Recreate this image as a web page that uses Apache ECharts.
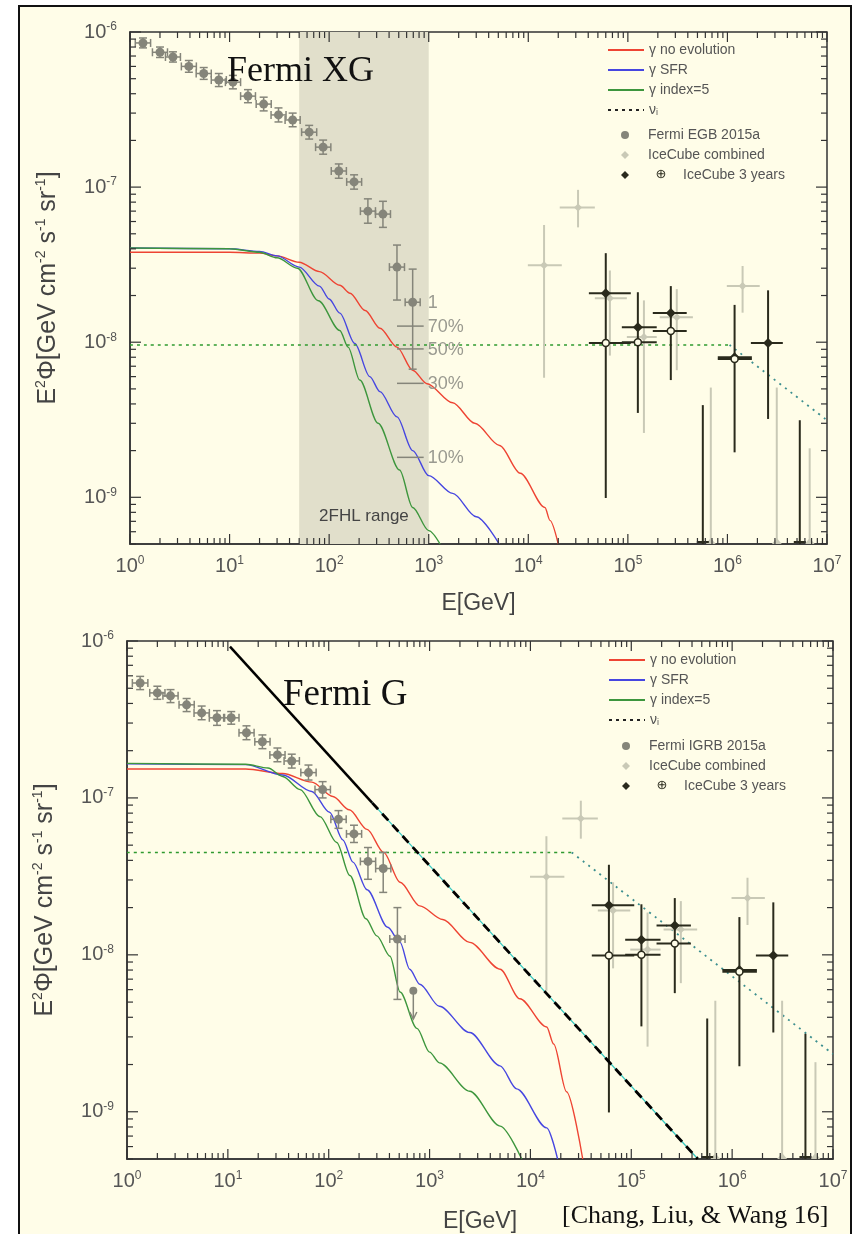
<!DOCTYPE html>
<html><head><meta charset="utf-8">
<script src="https://cdn.jsdelivr.net/npm/echarts@6/dist/echarts.min.js"></script>
<style>html,body{margin:0;padding:0;background:#fff}#c{width:854px;height:1234px}</style>
</head><body><div id="c"></div>
<script>
// ---------------- axis ranges & ticks ----------------
const X_MIN = 1, X_MAX = 1e7, Y_MIN = 5e-10, Y_MAX = 1e-6;
const xDecades = [1, 10, 100, 1e3, 1e4, 1e5, 1e6, 1e7];
const yDecades = [1e-9, 1e-8, 1e-7, 1e-6];
const yMinorDecades = [1e-10, 1e-9, 1e-8, 1e-7];
const minorMult = [2, 3, 4, 5, 6, 7, 8, 9];

// ---------------- Fermi data ----------------
const fermiE   = [1.35, 2.0, 2.7, 3.9, 5.5, 7.8, 10.8, 15.3, 22, 31, 43, 63, 87, 125, 178, 245, 347, 480, 690];
const fermiElo = [1.13, 1.68, 2.27, 3.28, 4.62, 6.55, 9.08, 12.9, 18.5, 26.1, 36.1, 52.9, 73.1, 105, 150, 206, 292, 403, 580];
const fermiEhi = [1.61, 2.38, 3.21, 4.64, 6.55, 9.28, 12.9, 18.2, 26.2, 36.9, 51.2, 75, 104, 149, 212, 292, 413, 571, 821];

// Fermi EGB 2015a (top panel)
const egbF   = [8.5e-7, 7.4e-7, 6.9e-7, 6.0e-7, 5.4e-7, 4.9e-7, 4.75e-7, 3.86e-7, 3.43e-7, 2.92e-7, 2.71e-7, 2.26e-7, 1.81e-7, 1.27e-7, 1.08e-7, 7.0e-8, 6.7e-8, 3.05e-8, 1.81e-8];
const egbFlo = [7.9e-7, 6.85e-7, 6.4e-7, 5.5e-7, 4.95e-7, 4.45e-7, 4.3e-7, 3.5e-7, 3.1e-7, 2.63e-7, 2.45e-7, 2.04e-7, 1.63e-7, 1.14e-7, 9.7e-8, 5.85e-8, 5.5e-8, 1.87e-8, 6.7e-9];
const egbFhi = [9.15e-7, 8.0e-7, 7.45e-7, 6.55e-7, 5.9e-7, 5.4e-7, 5.25e-7, 4.25e-7, 3.8e-7, 3.24e-7, 3.0e-7, 2.5e-7, 2.01e-7, 1.41e-7, 1.2e-7, 8.4e-8, 8.1e-8, 4.23e-8, 2.96e-8];

// Fermi IGRB 2015a (bottom panel)
const igrbF   = [5.4e-7, 4.67e-7, 4.47e-7, 3.92e-7, 3.48e-7, 3.24e-7, 3.24e-7, 2.6e-7, 2.28e-7, 1.88e-7, 1.72e-7, 1.45e-7, 1.13e-7, 7.3e-8, 5.9e-8, 3.94e-8, 3.55e-8, 1.26e-8];
const igrbFlo = [4.9e-7, 4.25e-7, 4.05e-7, 3.55e-7, 3.15e-7, 2.9e-7, 2.95e-7, 2.35e-7, 2.06e-7, 1.7e-7, 1.55e-7, 1.3e-7, 1.0e-7, 6.4e-8, 5.2e-8, 3.03e-8, 2.5e-8, 5.2e-9];
const igrbFhi = [5.95e-7, 5.15e-7, 4.9e-7, 4.3e-7, 3.85e-7, 3.6e-7, 3.55e-7, 2.88e-7, 2.52e-7, 2.08e-7, 1.9e-7, 1.62e-7, 1.27e-7, 8.3e-8, 6.7e-8, 4.83e-8, 4.5e-8, 2.0e-8];
const igrbLimitE = [690];
const igrbLimitF = [5.9e-9];
const igrbLimitTo = [3.9e-9];

// 2FHL fraction marks (top panel)
const pctLabels = ['1', '70%', '50%', '30%', '10%'];
const pctF   = [1.81e-8, 1.27e-8, 9.05e-9, 5.43e-9, 1.81e-9];
const pctElo = [480, 480, 480, 480, 480];
const pctEhi = [890, 890, 890, 890, 890];

// IceCube combined
const iccE   = [14400, 31600, 66000, 145000, 310000, 1.42e6];
const iccElo = [9900, 20700, 46600, 97700, 209000, 986000];
const iccEhi = [21700, 46600, 97700, 195000, 450000, 2.11e6];
const iccF   = [3.14e-8, 7.4e-8, 1.92e-8, 1.08e-8, 1.45e-8, 2.3e-8];
const iccFlo = [5.9e-9, 5.5e-8, 8.2e-9, 2.6e-9, 6.6e-9, 1.55e-8];
const iccFhi = [5.7e-8, 9.6e-8, 2.9e-8, 1.86e-8, 2.2e-8, 3.1e-8];
const iccLimitE = [681000, 3.13e6, 6.7e6];
const iccLimitF = [5.1e-9, 5.1e-9, 2.07e-9];

// IceCube 3 years
const ic3E   = [60000, 126000, 270000, 1.18e6, 2.56e6];
const ic3Elo = [40600, 87000, 178000, 800000, 1.72e6];
const ic3Ehi = [107000, 195000, 390000, 1.76e6, 3.6e6];
const ic3F   = [2.07e-8, 1.25e-8, 1.54e-8, 8.0e-9, 9.9e-9];
const ic3Flo = [9.9e-10, 3.5e-9, 5.7e-9, 1.95e-9, 3.2e-9];
const ic3Fhi = [3.75e-8, 2.1e-8, 2.3e-8, 1.74e-8, 2.16e-8];
const ic3OpenE   = [60000, 126000, 270000, 1.18e6];
const ic3OpenElo = [40600, 87000, 178000, 800000];
const ic3OpenEhi = [107000, 195000, 390000, 1.76e6];
const ic3OpenF   = [9.9e-9, 1.0e-8, 1.18e-8, 7.8e-9];
const ic3LimitE = [566000, 5.33e6];
const ic3LimitF = [3.93e-9, 3.14e-9];

// ---------------- model curves ----------------
const redTop = [[1,3.8e-8],[10,3.8e-8],[20,3.75e-8],[30,3.6e-8],[50,3.28e-8],[80,2.85e-8],[128,2.33e-8],[162,2.07e-8],[230,1.6e-8],[324,1.23e-8],[480,9.3e-9],[690,6.6e-9],[960,5.4e-9],[1740,4.07e-9],[2900,3.0e-9],[5150,2.16e-9],[8300,1.43e-9],[14700,8.6e-10],[16500,7.1e-10],[20000,5e-10]];
const blueTop = [[1,4.05e-8],[10,4.0e-8],[20,3.85e-8],[30,3.6e-8],[50,3.05e-8],[80,2.3e-8],[100,1.9e-8],[128,1.54e-8],[181,9.8e-9],[256,6.0e-9],[324,4.8e-9],[480,3.3e-9],[690,2.0e-9],[1000,1.38e-9],[1740,1.06e-9],[3000,7.5e-10],[5100,5e-10]];
const greenTop = [[1,4.05e-8],[10,4.0e-8],[20,3.8e-8],[30,3.5e-8],[48,3.0e-8],[78,1.85e-8],[128,1.19e-8],[155,9.3e-9],[203,5.7e-9],[310,3.0e-9],[510,1.5e-9],[690,8.6e-10],[1000,6.1e-10],[1300,5e-10]];
const nuTopFlat = [[1,9.6e-9],[1.05e6,9.6e-9]];
const nuTopSlope = [[1.05e6,9.6e-9],[1e7,3.14e-9]];

const redBot = [[1,1.53e-7],[15,1.53e-7],[35,1.43e-7],[68,1.26e-7],[110,1.02e-7],[160,8.4e-8],[240,6.3e-8],[350,4.5e-8],[510,2.9e-8],[800,2.05e-8],[1350,1.68e-8],[2500,1.2e-8],[5000,8.1e-9],[7850,5.25e-9],[14500,3.47e-9],[17000,2.7e-9],[22800,1.34e-9],[33000,5e-10]];
const blueBot = [[1,1.65e-7],[15,1.63e-7],[35,1.4e-7],[68,1.1e-7],[102,8.1e-8],[138,5.4e-8],[174,3.9e-8],[240,2.6e-8],[385,1.5e-8],[510,1.2e-8],[635,8.1e-9],[800,6.5e-9],[1250,4.7e-9],[2500,3.2e-9],[5000,1.96e-9],[7300,1.4e-9],[14500,7.9e-10],[18600,5e-10]];
const greenBot = [[1,1.66e-7],[15,1.64e-7],[25,1.55e-7],[35,1.37e-7],[52,1.13e-7],[82,7.6e-8],[120,5.2e-8],[162,3.2e-8],[234,1.7e-8],[300,1.32e-8],[405,9.8e-9],[510,5.8e-9],[750,3.4e-9],[1000,2.4e-9],[1250,2.05e-9],[2500,1.35e-9],[5000,8.1e-10],[8200,5e-10]];
const nuBotFlat = [[1,4.49e-8],[25700,4.49e-8]];
const nuBotSlope = [[25700,4.49e-8],[1e7,2.33e-9]];
const boundSolid = [[10.5,9.2e-7],[270,9.3e-8]];
const boundDashed = [[270,9.3e-8],[457000,5e-10]];

// ---------------- styles ----------------
const SANS = "'Liberation Sans', Arial, sans-serif";
const NARROW = "'Liberation Sans Narrow', 'Liberation Sans', Arial, sans-serif";
const SERIF = "'Liberation Serif', 'Times New Roman', serif";
const C_RED = '#ee4433', C_BLUE = '#4646e0', C_GREEN = '#3d963d', C_NU = '#2f9a2f', C_TEAL = '#3d8f8f';
const C_FERMI = '#85857a', C_ICC = '#c9c9b6', C_IC3 = '#2a2a1c', AXIS = '#333';

function powLabel(v) {
  const e = Math.log10(v), r = Math.round(e);
  if (Math.abs(e - r) > 1e-6) return '';
  return '{b|10}{s|' + r + '}';
}
const tickRich = {
  b: {fontSize: 20, fontFamily: NARROW, color: '#555', lineHeight: 22},
  s: {fontSize: 12, fontFamily: NARROW, color: '#555', lineHeight: 12, verticalAlign: 'top'}
};

// tick data (major + minor) built from decades/multipliers
const xTickData = [];
xDecades.forEach(d => {
  xTickData.push([d, 1e-7, 1]);
  if (d < X_MAX) minorMult.forEach(m => xTickData.push([m * d, 1e-7, 0]));
});
const yTickData = [];
yDecades.forEach(d => yTickData.push([10, d, 1]));
yMinorDecades.forEach(d => minorMult.forEach(m => {
  const v = m * d;
  if (v >= Y_MIN * 0.999 && v <= Y_MAX) yTickData.push([10, v, 0]);
}));

function xTickRender(params, api) {
  const v = api.value(0), major = api.value(2);
  const b = api.coord([v, Y_MIN]), t = api.coord([v, Y_MAX]);
  const len = major ? 10 : 6;
  const st = {stroke: AXIS, lineWidth: 1.2};
  return {type: 'group', children: [
    {type: 'line', shape: {x1: b[0], y1: b[1], x2: b[0], y2: b[1] - len}, style: st},
    {type: 'line', shape: {x1: t[0], y1: t[1], x2: t[0], y2: t[1] + len}, style: st}
  ]};
}
function yTickRender(params, api) {
  const v = api.value(1), major = api.value(2);
  const l = api.coord([X_MIN, v]), r = api.coord([X_MAX, v]);
  const len = major ? 11 : 6;
  const st = {stroke: AXIS, lineWidth: 1.2};
  return {type: 'group', children: [
    {type: 'line', shape: {x1: l[0], y1: l[1], x2: l[0] + len, y2: l[1]}, style: st},
    {type: 'line', shape: {x1: r[0], y1: r[1], x2: r[0] - len, y2: r[1]}, style: st}
  ]};
}

function errRender(o) {
  return function (params, api) {
    const E = api.value(0), F = api.value(1);
    const c = api.coord([E, F]);
    const l = api.coord([api.value(2), F]), r = api.coord([api.value(3), F]);
    const lo = api.coord([E, api.value(4)]), hi = api.coord([E, api.value(5)]);
    const ls = {stroke: o.color, lineWidth: o.width};
    const kids = [
      {type: 'line', shape: {x1: l[0], y1: c[1], x2: r[0], y2: c[1]}, style: ls},
      {type: 'line', shape: {x1: c[0], y1: hi[1], x2: c[0], y2: lo[1]}, style: ls}
    ];
    if (o.cap) {
      const k = o.cap;
      kids.push({type: 'line', shape: {x1: c[0] - k, y1: hi[1], x2: c[0] + k, y2: hi[1]}, style: ls});
      kids.push({type: 'line', shape: {x1: c[0] - k, y1: lo[1], x2: c[0] + k, y2: lo[1]}, style: ls});
      kids.push({type: 'line', shape: {x1: l[0], y1: c[1] - k, x2: l[0], y2: c[1] + k}, style: ls});
      kids.push({type: 'line', shape: {x1: r[0], y1: c[1] - k, x2: r[0], y2: c[1] + k}, style: ls});
    }
    const s = o.size;
    if (o.marker === 'circle') kids.push({type: 'circle', shape: {cx: c[0], cy: c[1], r: s}, style: {fill: o.color}});
    else if (o.marker === 'diamond') kids.push({type: 'polygon', shape: {points: [[c[0], c[1] - s], [c[0] + s, c[1]], [c[0], c[1] + s], [c[0] - s, c[1]]]}, style: {fill: o.color}});
    else if (o.marker === 'open') kids.push({type: 'circle', shape: {cx: c[0], cy: c[1], r: s}, style: {fill: '#fffde8', stroke: o.color, lineWidth: 1.5}});
    return {type: 'group', children: kids};
  };
}
function ulRender(color, width, mark) {
  return function (params, api) {
    const t = api.coord([api.value(0), api.value(1)]);
    const b = api.coord([api.value(0), Y_MIN]);
    const kids = [{type: 'line', shape: {x1: t[0], y1: t[1], x2: b[0], y2: b[1]}, style: {stroke: color, lineWidth: width}}];
    if (mark === 'tri') kids.push({type: 'polygon', shape: {points: [[b[0] - 5, b[1]], [b[0] + 5, b[1]], [b[0], b[1] - 6]]}, style: {fill: color}});
    else kids.push({type: 'line', shape: {x1: b[0] - 6, y1: b[1] - 2, x2: b[0] + 6, y2: b[1] - 2}, style: {stroke: color, lineWidth: 2}});
    return {type: 'group', children: kids};
  };
}
function arrowRender(params, api) {
  const E = api.value(0);
  const c = api.coord([E, api.value(1)]), d = api.coord([E, api.value(2)]);
  return {type: 'group', children: [
    {type: 'line', shape: {x1: c[0], y1: c[1], x2: d[0], y2: d[1]}, style: {stroke: C_FERMI, lineWidth: 1.5}},
    {type: 'polyline', shape: {points: [[d[0] - 3.5, d[1] - 7], [d[0], d[1]], [d[0] + 3.5, d[1] - 7]]}, style: {stroke: C_FERMI, lineWidth: 1.5, fill: null}},
    {type: 'circle', shape: {cx: c[0], cy: c[1], r: 4}, style: {fill: C_FERMI}}
  ]};
}
function pctRender(params, api) {
  const F = api.value(1), i = params.dataIndex;
  const a = api.coord([api.value(2), F]), b = api.coord([api.value(3), F]);
  const kids = [];
  if (i > 0) kids.push({type: 'line', shape: {x1: a[0], y1: a[1], x2: b[0], y2: b[1]}, style: {stroke: C_FERMI, lineWidth: 1.5}});
  kids.push({type: 'text', style: {text: pctLabels[i], x: b[0] + 4, y: b[1] + 1, align: 'left', verticalAlign: 'middle', fill: '#9a9a90', font: '18px ' + SANS}});
  return {type: 'group', children: kids};
}

function zip6(E, F, Elo, Ehi, Flo, Fhi) { return E.map((e, i) => [e, F[i], Elo[i], Ehi[i], Flo[i], Fhi[i]]); }

const egbData  = zip6(fermiE, egbF, fermiElo, fermiEhi, egbFlo, egbFhi);
const igrbData = zip6(fermiE.slice(0, igrbF.length), igrbF, fermiElo, fermiEhi, igrbFlo, igrbFhi);
const iccData  = zip6(iccE, iccF, iccElo, iccEhi, iccFlo, iccFhi);
const ic3Data  = zip6(ic3E, ic3F, ic3Elo, ic3Ehi, ic3Flo, ic3Fhi);
const ic3OpenData = zip6(ic3OpenE, ic3OpenF, ic3OpenElo, ic3OpenEhi, ic3OpenF, ic3OpenF);
const iccLimData = iccLimitE.map((e, i) => [e, iccLimitF[i]]);
const ic3LimData = ic3LimitE.map((e, i) => [e, ic3LimitF[i]]);
const igrbLimData = igrbLimitE.map((e, i) => [e, igrbLimitF[i], igrbLimitTo[i]]);
const pctData = pctF.map((f, i) => [690, f, pctElo[i], pctEhi[i]]);

function custom(g, name, data, render, color, z) {
  const s = {type: 'custom', xAxisIndex: g, yAxisIndex: g, data: data, renderItem: render,
    encode: {x: 0, y: 1}, z: z || 3, silent: true, itemStyle: {color: color || '#000'}};
  if (name) s.name = name;
  return s;
}
function line(g, name, data, color, width, type, z) {
  return {type: 'line', name: name, xAxisIndex: g, yAxisIndex: g, data: data, symbol: 'none', showSymbol: false,
    smooth: 0.3, smoothMonotone: 'x', silent: true, z: z || 2,
    lineStyle: {color: color, width: width, type: type || 'solid'}, itemStyle: {color: color}};
}

function xAxis(g, gap) {
  return {gridIndex: g, type: 'log', logBase: 10, min: X_MIN, max: X_MAX,
    axisLine: {show: true, lineStyle: {color: AXIS, width: 1.5}}, axisTick: {show: false}, splitLine: {show: false},
    axisLabel: {margin: 11, formatter: powLabel, rich: tickRich},
    name: 'E[GeV]', nameLocation: 'middle', nameGap: gap,
    nameTextStyle: {fontSize: 23, fontFamily: SANS, color: '#444'}};
}
const yName = '{b|E}{s|2}{b|Φ[GeV cm}{s|-2}{b| s}{s|-1}{b| sr}{s|-1}{b|]}';
function yAxis(g) {
  return {gridIndex: g, type: 'log', logBase: 10, min: Y_MIN, max: Y_MAX,
    axisLine: {show: true, lineStyle: {color: AXIS, width: 1.5}}, axisTick: {show: false}, splitLine: {show: false},
    axisLabel: {margin: 13, formatter: powLabel, rich: tickRich},
    name: yName, nameLocation: 'middle', nameRotate: 90, nameGap: 68,
    nameTextStyle: {rich: {
      b: {fontSize: 25, fontFamily: SANS, color: '#444', lineHeight: 28},
      s: {fontSize: 14, fontFamily: SANS, color: '#444', lineHeight: 14, verticalAlign: 'top'}}}};
}

const legendRich = {
  n: {fontSize: 14, fontFamily: SANS, color: '#555', lineHeight: 14},
  i: {fontSize: 9, fontFamily: SANS, color: '#555', lineHeight: 9, verticalAlign: 'bottom'},
  o: {fontSize: 13, fontFamily: 'DejaVu Sans', color: C_IC3, lineHeight: 14, width: 26, align: 'center'},
  t: {fontSize: 14, fontFamily: SANS, color: '#555', lineHeight: 14, padding: [0, 0, 0, 9]}
};
function legendFmt(name) {
  if (name === 'ν_i') return '{n|ν}{i|i}';
  if (name === 'IceCube 3 years') return '{o|⊕}{t|IceCube 3 years}';
  return name;
}
function lineLegend(left, top) {
  return {left: left, top: top, orient: 'vertical', padding: 0, itemWidth: 36, itemHeight: 14, itemGap: 6,
    selectedMode: false, itemStyle: {opacity: 0}, data: ['γ no evolution', 'γ SFR', 'γ index=5', 'ν_i'], formatter: legendFmt,
    textStyle: {fontSize: 14, fontFamily: SANS, color: '#555', lineHeight: 14, rich: legendRich}};
}
function markLegend(left, top, fermiName) {
  return {left: left, top: top, orient: 'vertical', padding: 0, itemWidth: 8, itemHeight: 8, itemGap: 6,
    selectedMode: false, formatter: legendFmt,
    textStyle: {fontSize: 14, fontFamily: SANS, color: '#555', lineHeight: 14, padding: [0, 0, 0, 14], rich: legendRich},
    data: [{name: fermiName, icon: 'circle'}, {name: 'IceCube combined', icon: 'diamond'}, {name: 'IceCube 3 years', icon: 'diamond'}]};
}

const series = [];
[0, 1].forEach(g => {
  series.push(custom(g, null, xTickData, xTickRender, AXIS, 10));
  series.push(custom(g, null, yTickData, yTickRender, AXIS, 10));
});

// top panel
const redTopSeries = line(0, 'γ no evolution', redTop, C_RED, 1.4);
redTopSeries.markArea = {silent: true, itemStyle: {color: '#e1dfcb'},
  label: {show: true, position: 'insideBottom', distance: 19, color: '#444', fontSize: 17, fontFamily: SANS},
  data: [[{name: '2FHL range', xAxis: 50}, {xAxis: 1000}]]};
series.push(redTopSeries);
series.push(line(0, 'γ SFR', blueTop, C_BLUE, 1.4));
series.push(line(0, 'γ index=5', greenTop, C_GREEN, 1.4));
series.push(line(0, null, nuTopFlat, C_NU, 1.5, [3, 4]));
series.push(line(0, null, nuTopSlope, C_TEAL, 1.8, [2, 5]));
series.push(line(0, 'ν_i', [], '#222', 1.5, [3, 4]));
series.push(custom(0, 'IceCube combined', iccData, errRender({color: C_ICC, width: 2, marker: 'diamond', size: 4}), C_ICC, 3));
series.push(custom(0, null, iccLimData, ulRender(C_ICC, 2, 'tri'), C_ICC, 3));
series.push(custom(0, 'IceCube 3 years', ic3Data, errRender({color: C_IC3, width: 2, marker: 'diamond', size: 5}), C_IC3, 4));
series.push(custom(0, null, ic3OpenData, errRender({color: C_IC3, width: 2, marker: 'open', size: 3.5}), C_IC3, 4));
series.push(custom(0, null, ic3LimData, ulRender(C_IC3, 2, 'bar'), C_IC3, 4));
series.push(custom(0, 'Fermi EGB 2015a', egbData, errRender({color: C_FERMI, width: 1.5, marker: 'circle', size: 4.5, cap: 4}), C_FERMI, 5));
series.push(custom(0, null, pctData, pctRender, C_FERMI, 5));

// bottom panel
series.push(line(1, 'γ no evolution', redBot, C_RED, 1.4));
series.push(line(1, 'γ SFR', blueBot, C_BLUE, 1.4));
series.push(line(1, 'γ index=5', greenBot, C_GREEN, 1.4));
series.push(line(1, null, nuBotFlat, C_NU, 1.5, [3, 4]));
series.push(line(1, null, nuBotSlope, C_TEAL, 1.8, [2, 5]));
series.push(line(1, null, boundSolid, '#000', 2.5, 'solid', 6));
series.push(line(1, null, boundDashed, '#35c8c0', 1.2, 'solid', 6));
series.push(line(1, null, boundDashed, '#000', 2.8, [9, 6], 7));
series.push(custom(1, 'IceCube combined', iccData, errRender({color: C_ICC, width: 2, marker: 'diamond', size: 4}), C_ICC, 3));
series.push(custom(1, null, iccLimData, ulRender(C_ICC, 2, 'tri'), C_ICC, 3));
series.push(custom(1, 'IceCube 3 years', ic3Data, errRender({color: C_IC3, width: 2, marker: 'diamond', size: 5}), C_IC3, 4));
series.push(custom(1, null, ic3OpenData, errRender({color: C_IC3, width: 2, marker: 'open', size: 3.5}), C_IC3, 4));
series.push(custom(1, null, ic3LimData, ulRender(C_IC3, 2, 'bar'), C_IC3, 4));
series.push(custom(1, 'Fermi IGRB 2015a', igrbData, errRender({color: C_FERMI, width: 1.5, marker: 'circle', size: 4.5, cap: 4}), C_FERMI, 5));
series.push(custom(1, null, igrbLimData, arrowRender, C_FERMI, 5));

const option = {
  animation: false,
  backgroundColor: 'transparent',
  graphic: [{type: 'rect', z: -100, silent: true, shape: {x: 19, y: 6, width: 832, height: 1240},
    style: {fill: '#fffde8', stroke: '#111', lineWidth: 2}}],
  title: [
    {text: 'Fermi XG', left: 227, top: 54, padding: 0, textStyle: {fontFamily: SERIF, fontSize: 36, fontWeight: 'normal', color: '#111'}},
    {text: 'Fermi G', left: 283, top: 677, padding: 0, textStyle: {fontFamily: SERIF, fontSize: 37, fontWeight: 'normal', color: '#111'}},
    {text: '[Chang, Liu, & Wang 16]', left: 562, top: 1203, padding: 0, textStyle: {fontFamily: SERIF, fontSize: 26, fontWeight: 'normal', color: '#111'}}
  ],
  legend: [lineLegend(607, 43), markLegend(621, 128, 'Fermi EGB 2015a'), lineLegend(608, 653), markLegend(622, 739, 'Fermi IGRB 2015a')],
  grid: [
    {left: 130, top: 32, width: 697, height: 512, show: true, borderColor: AXIS, borderWidth: 1.5, backgroundColor: 'transparent'},
    {left: 127, top: 641, width: 706, height: 518, show: true, borderColor: AXIS, borderWidth: 1.5, backgroundColor: 'transparent'}
  ],
  xAxis: [xAxis(0, 48), xAxis(1, 51)],
  yAxis: [yAxis(0), yAxis(1)],
  series: series
};
const chart = echarts.init(document.getElementById('c'), null, {renderer: 'canvas'});
chart.setOption(option);
</script></body></html>
